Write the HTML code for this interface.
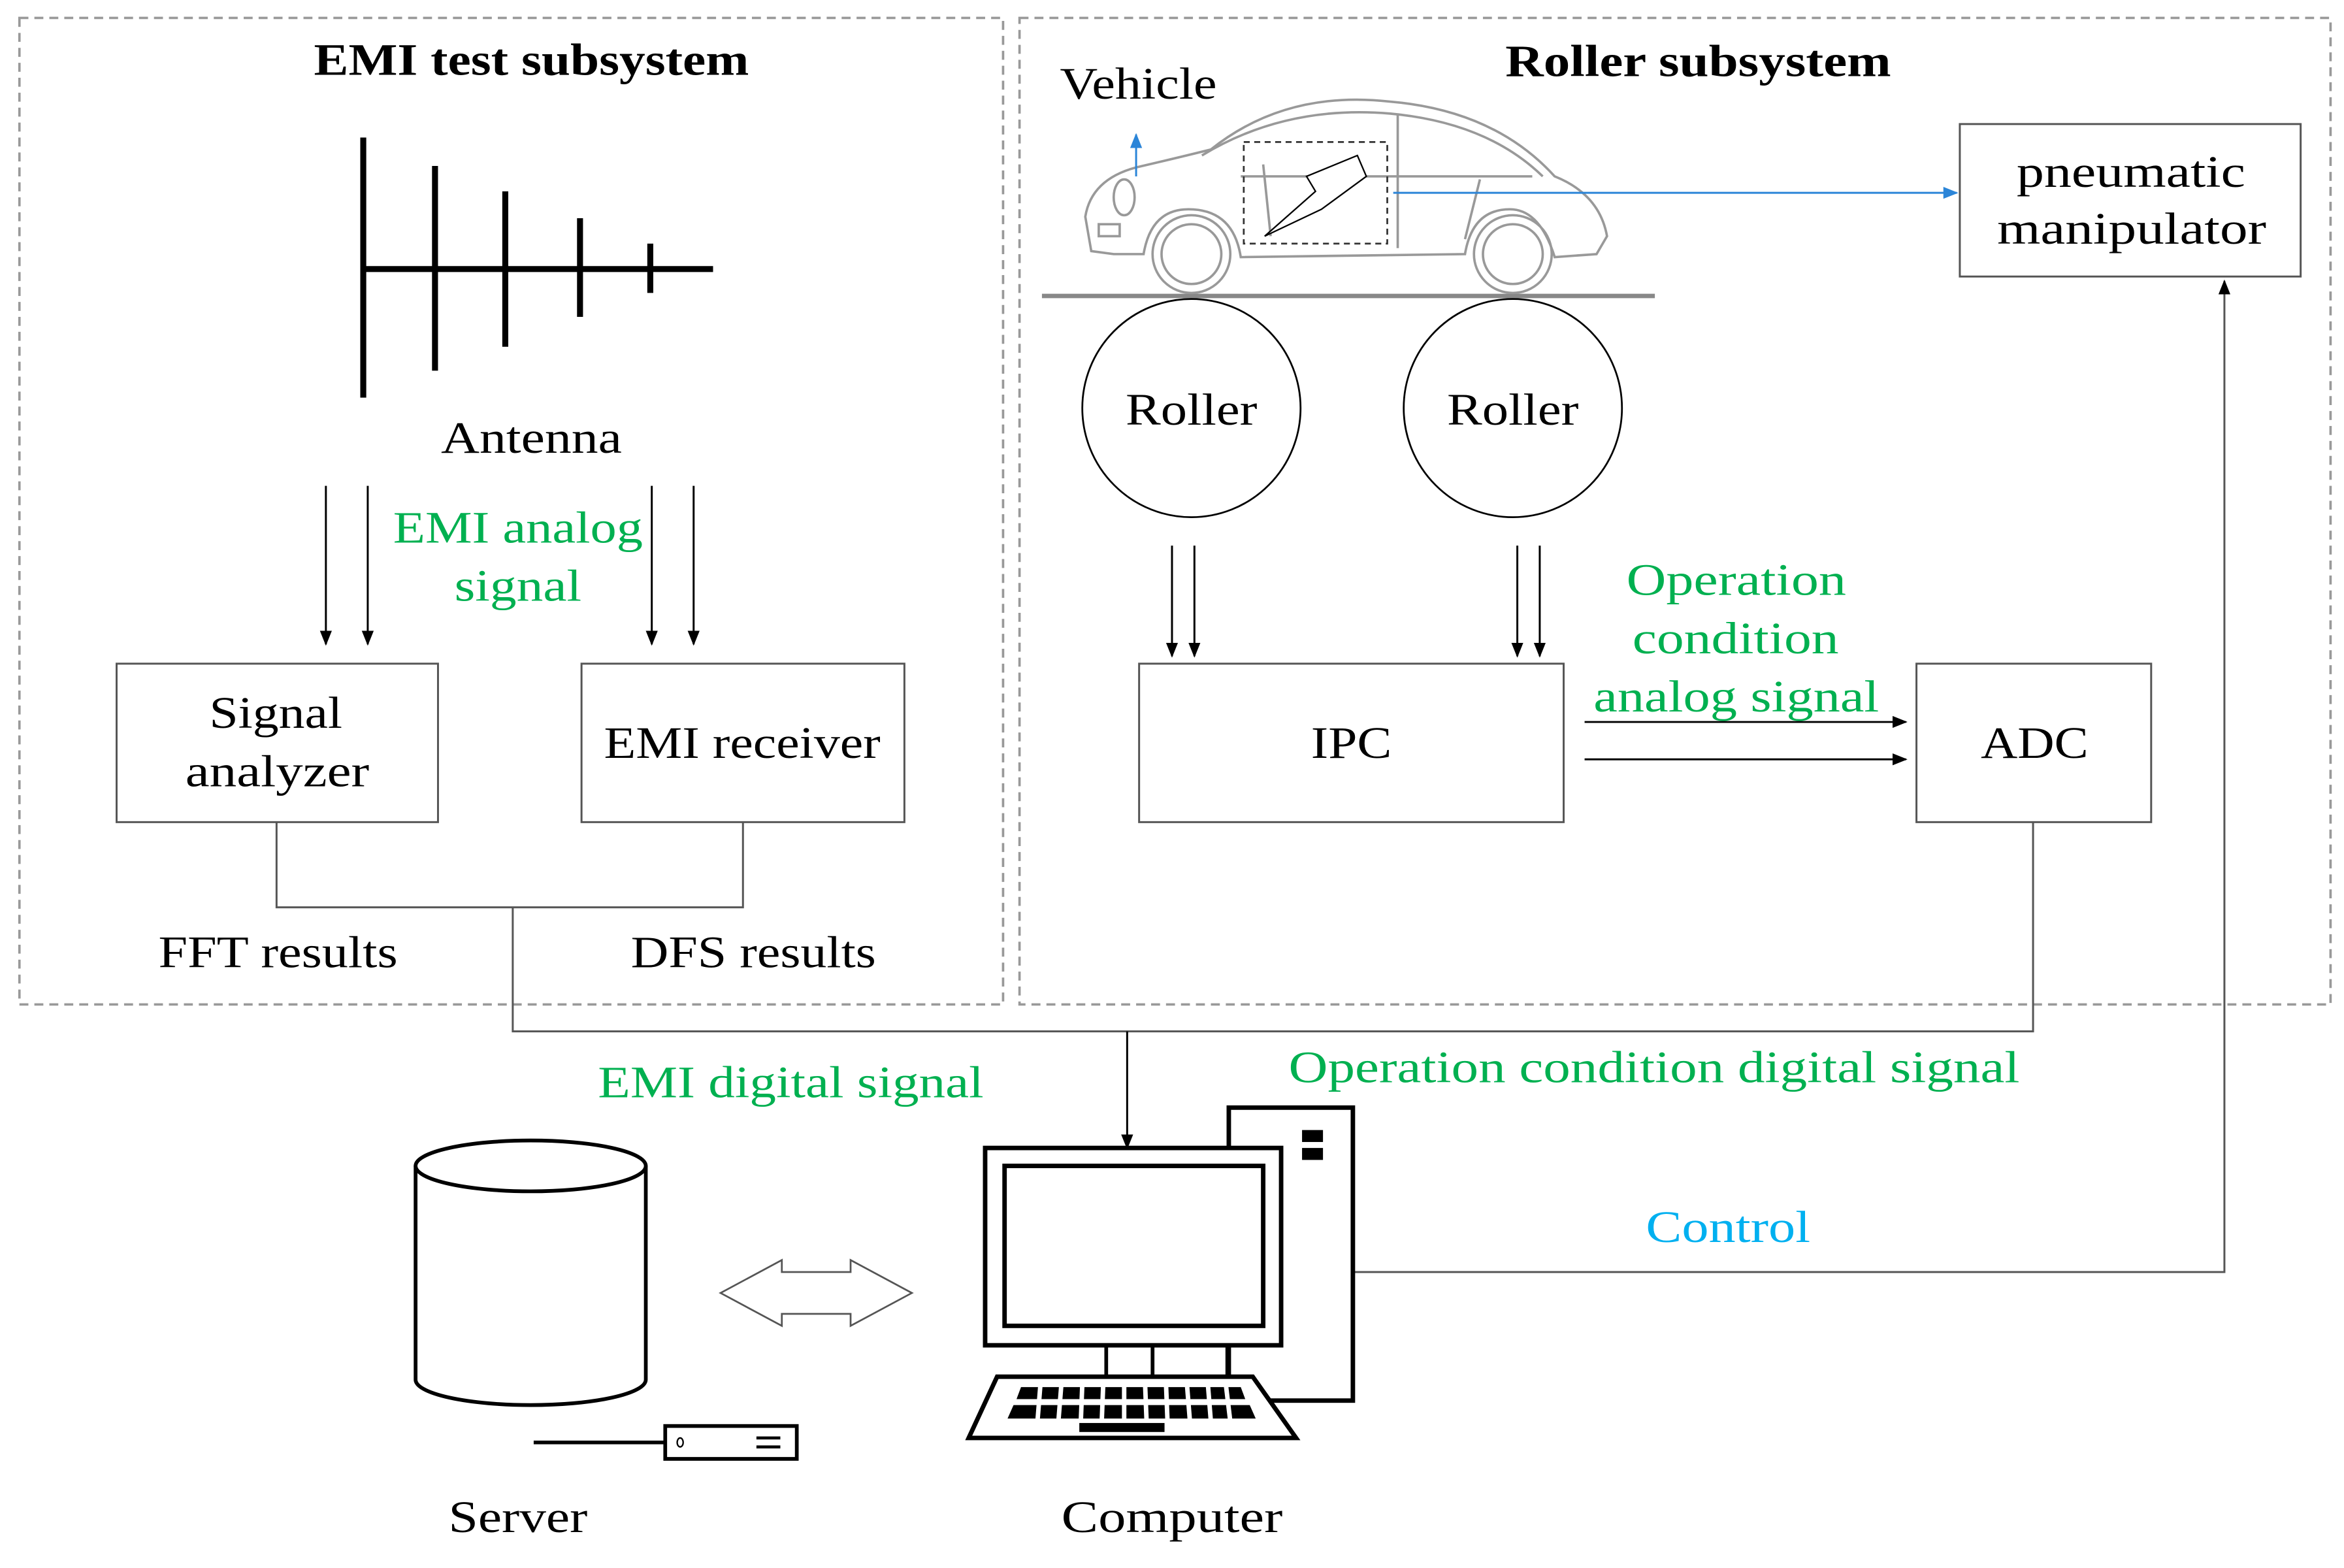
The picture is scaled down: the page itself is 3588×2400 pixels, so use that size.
<!DOCTYPE html>
<html><head><meta charset="utf-8"><style>
html,body{margin:0;padding:0;background:#fff}
svg{display:block}
text{font-family:"Liberation Serif",serif;fill:#000}
.g{fill:#00b050}
</style></head><body>
<svg width="3588" height="2400" viewBox="0 0 1568 1049" preserveAspectRatio="none" xmlns="http://www.w3.org/2000/svg">
<defs>
<marker id="ah" markerWidth="10" markerHeight="10" refX="9" refY="5" orient="auto" markerUnits="userSpaceOnUse"><path d="M0,1 L10,5 L0,9 z" fill="#000"/></marker>
<marker id="bh" markerWidth="10" markerHeight="10" refX="9" refY="5" orient="auto" markerUnits="userSpaceOnUse"><path d="M0,1 L10,5 L0,9 z" fill="#2b85d8"/></marker>
</defs>
<rect width="1568" height="1049" fill="#fff"/>
<rect x="13" y="12" width="658" height="660" fill="none" stroke="#999" stroke-width="1.6" stroke-dasharray="6,4"/>
<rect x="682" y="12" width="877" height="660" fill="none" stroke="#999" stroke-width="1.6" stroke-dasharray="6,4"/>
<g font-size="30" lengthAdjust="spacingAndGlyphs">
<text x="210" y="50" font-weight="bold" textLength="291" lengthAdjust="spacingAndGlyphs">EMI test subsystem</text>
<text x="1007" y="51" font-weight="bold" textLength="258" lengthAdjust="spacingAndGlyphs">Roller subsystem</text>
</g>
<g stroke="#000" stroke-width="4">
<line x1="243" y1="92" x2="243" y2="266"/>
<line x1="243" y1="180" x2="477" y2="180"/>
<line x1="291" y1="111" x2="291" y2="248"/>
<line x1="338" y1="128" x2="338" y2="232"/>
<line x1="388" y1="146" x2="388" y2="212"/>
<line x1="435" y1="163" x2="435" y2="196"/>
</g>
<text x="295" y="303" font-size="30" textLength="121" lengthAdjust="spacingAndGlyphs">Antenna</text>
<g stroke="#000" stroke-width="1.3" marker-end="url(#ah)">
<line x1="218" y1="325" x2="218" y2="431"/>
<line x1="246" y1="325" x2="246" y2="431"/>
<line x1="436" y1="325" x2="436" y2="431"/>
<line x1="464" y1="325" x2="464" y2="431"/>
</g>
<text x="263" y="363" font-size="30" class="g" textLength="167" lengthAdjust="spacingAndGlyphs">EMI analog</text>
<text x="304" y="402" font-size="30" class="g" textLength="85" lengthAdjust="spacingAndGlyphs">signal</text>
<g fill="none" stroke="#555" stroke-width="1.3">
<rect x="78" y="444" width="215" height="106"/>
<rect x="389" y="444" width="216" height="106"/>
<polyline points="185,550 185,607 497,607 497,550"/>
<polyline points="343,607 343,690 1360,690 1360,550"/>
<rect x="762" y="444" width="284" height="106"/>
<rect x="1282" y="444" width="157" height="106"/>
<rect x="1311" y="83" width="228" height="102"/>
</g>
<text x="140" y="487" font-size="30" textLength="89" lengthAdjust="spacingAndGlyphs">Signal</text>
<text x="124" y="526" font-size="30" textLength="123" lengthAdjust="spacingAndGlyphs">analyzer</text>
<text x="404" y="507" font-size="30" textLength="185" lengthAdjust="spacingAndGlyphs">EMI receiver</text>
<text x="106" y="647" font-size="30" textLength="160" lengthAdjust="spacingAndGlyphs">FFT results</text>
<text x="422" y="647" font-size="30" textLength="164" lengthAdjust="spacingAndGlyphs">DFS results</text>
<line x1="754" y1="690" x2="754" y2="768" stroke="#000" stroke-width="1.3" marker-end="url(#ah)"/>
<text x="400" y="734" font-size="30" class="g" textLength="258" lengthAdjust="spacingAndGlyphs">EMI digital signal</text>
<text x="862" y="724" font-size="30" class="g" textLength="489" lengthAdjust="spacingAndGlyphs">Operation condition digital signal</text>
<!-- car -->
<text x="709" y="66" font-size="30" textLength="105" lengthAdjust="spacingAndGlyphs">Vehicle</text>
<line x1="697" y1="198" x2="1107" y2="198" stroke="#888" stroke-width="3"/>
<g fill="none" stroke="#999" stroke-width="1.6">
<path d="M730,168 L726,145 Q730,120 760,112 Q790,105 810,100 Q860,60 930,68 Q1000,74 1040,118 Q1070,130 1075,158 L1068,170 L1040,172 Q1030,140 1010,140 Q985,140 980,170 L830,172 Q825,140 795,140 Q770,140 765,170 L745,170 Z"/>
<path d="M804,104 Q860,70 930,76 Q995,82 1032,118"/>
<circle cx="797" cy="170" r="26"/><circle cx="797" cy="170" r="20"/>
<circle cx="1012" cy="170" r="26"/><circle cx="1012" cy="170" r="20"/>
<line x1="935" y1="76" x2="935" y2="166"/>
<path d="M830,118 L1025,118"/>
<path d="M850,158 L845,110 M980,160 L990,120"/>
<ellipse cx="752" cy="132" rx="7" ry="12"/>
<rect x="735" y="150" width="14" height="8"/>
</g>
<rect x="832" y="95" width="96" height="68" fill="none" stroke="#333" stroke-width="1.2" stroke-dasharray="4,3"/>
<path d="M846,158 L880,128 L874,118 L908,104 L914,118 L884,140 Z" fill="#fff" stroke="#000" stroke-width="1"/>
<line x1="760" y1="118" x2="760" y2="90" stroke="#2b85d8" stroke-width="1.3" marker-end="url(#bh)"/>
<line x1="932" y1="129" x2="1309" y2="129" stroke="#2b85d8" stroke-width="1.3" marker-end="url(#bh)"/>
<text x="1349" y="125" font-size="30" textLength="153" lengthAdjust="spacingAndGlyphs">pneumatic</text>
<text x="1336" y="163" font-size="30" textLength="180" lengthAdjust="spacingAndGlyphs">manipulator</text>
<circle cx="797" cy="273" r="73" fill="#fff" stroke="#000" stroke-width="1.2"/>
<circle cx="1012" cy="273" r="73" fill="#fff" stroke="#000" stroke-width="1.2"/>
<text x="753" y="284" font-size="30" textLength="88" lengthAdjust="spacingAndGlyphs">Roller</text>
<text x="968" y="284" font-size="30" textLength="88" lengthAdjust="spacingAndGlyphs">Roller</text>
<g stroke="#000" stroke-width="1.3" marker-end="url(#ah)">
<line x1="784" y1="365" x2="784" y2="439"/>
<line x1="799" y1="365" x2="799" y2="439"/>
<line x1="1015" y1="365" x2="1015" y2="439"/>
<line x1="1030" y1="365" x2="1030" y2="439"/>
<line x1="1060" y1="483" x2="1275" y2="483"/>
<line x1="1060" y1="508" x2="1275" y2="508"/>
</g>
<text x="877" y="507" font-size="30" textLength="54" lengthAdjust="spacingAndGlyphs">IPC</text>
<text x="1325" y="507" font-size="30" textLength="72" lengthAdjust="spacingAndGlyphs">ADC</text>
<text x="1088" y="398" font-size="30" class="g" textLength="147" lengthAdjust="spacingAndGlyphs">Operation</text>
<text x="1092" y="437" font-size="30" class="g" textLength="138" lengthAdjust="spacingAndGlyphs">condition</text>
<text x="1066" y="476" font-size="30" class="g" textLength="191" lengthAdjust="spacingAndGlyphs">analog signal</text>
<polyline points="905,851 1488,851 1488,188" fill="none" stroke="#555" stroke-width="1.3" marker-end="url(#ah)"/>
<text x="1101" y="831" font-size="30" style="fill:#00b0f0" textLength="110" lengthAdjust="spacingAndGlyphs">Control</text>
<!-- server -->
<path d="M278,780 L278,923 A77,17 0 0 0 432,923 L432,780" fill="#fff" stroke="#000" stroke-width="2.5"/>
<ellipse cx="355" cy="780" rx="77" ry="17" fill="#fff" stroke="#000" stroke-width="2.5"/>
<line x1="357" y1="965" x2="445" y2="965" stroke="#000" stroke-width="2.5"/>
<rect x="445" y="954" width="88" height="22" fill="#fff" stroke="#000" stroke-width="2.5"/>
<ellipse cx="455" cy="965" rx="2" ry="3" fill="none" stroke="#000"/>
<line x1="506" y1="962" x2="522" y2="962" stroke="#000" stroke-width="2"/>
<line x1="506" y1="968" x2="522" y2="968" stroke="#000" stroke-width="2"/>
<text x="300" y="1025" font-size="30" textLength="93" lengthAdjust="spacingAndGlyphs">Server</text>
<path d="M482,865 L523,843 L523,851 L569,851 L569,843 L610,865 L569,887 L569,879 L523,879 L523,887 Z" fill="#fff" stroke="#555" stroke-width="1.2"/>
<!-- computer -->
<rect x="822" y="741" width="83" height="196" fill="#fff" stroke="#000" stroke-width="3"/>
<rect x="871" y="756" width="14" height="8" fill="#000"/><rect x="871" y="768" width="14" height="8" fill="#000"/>
<rect x="659" y="768" width="198" height="132" fill="#fff" stroke="#000" stroke-width="3"/>
<rect x="672" y="780" width="173" height="107" fill="#fff" stroke="#000" stroke-width="3"/>
<g stroke="#000" stroke-width="2.5"><line x1="740" y1="900" x2="740" y2="921"/><line x1="771" y1="900" x2="771" y2="921"/><line x1="821" y1="900" x2="821" y2="921"/></g>
<path d="M667,921 L838,921 L867,962 L648,962 Z" fill="#fff" stroke="#000" stroke-width="3"/>
<g fill="#000">
<path d="M683,928 L830,928 L833,936 L680,936 Z"/>
<path d="M678,940 L836,940 L840,949 L674,949 Z"/>
<rect x="722" y="952" width="57" height="6"/>
</g>
<g stroke="#fff" stroke-width="3">
<line x1="696" y1="926" x2="694" y2="951"/><line x1="710" y1="926" x2="708" y2="951"/><line x1="724" y1="926" x2="723" y2="951"/><line x1="738" y1="926" x2="737" y2="951"/><line x1="752" y1="926" x2="752" y2="951"/><line x1="766" y1="926" x2="767" y2="951"/><line x1="780" y1="926" x2="781" y2="951"/><line x1="794" y1="926" x2="796" y2="951"/><line x1="808" y1="926" x2="810" y2="951"/><line x1="820" y1="926" x2="823" y2="951"/>
</g>
<text x="710" y="1025" font-size="30" textLength="148" lengthAdjust="spacingAndGlyphs">Computer</text>
</svg>
</body></html>
